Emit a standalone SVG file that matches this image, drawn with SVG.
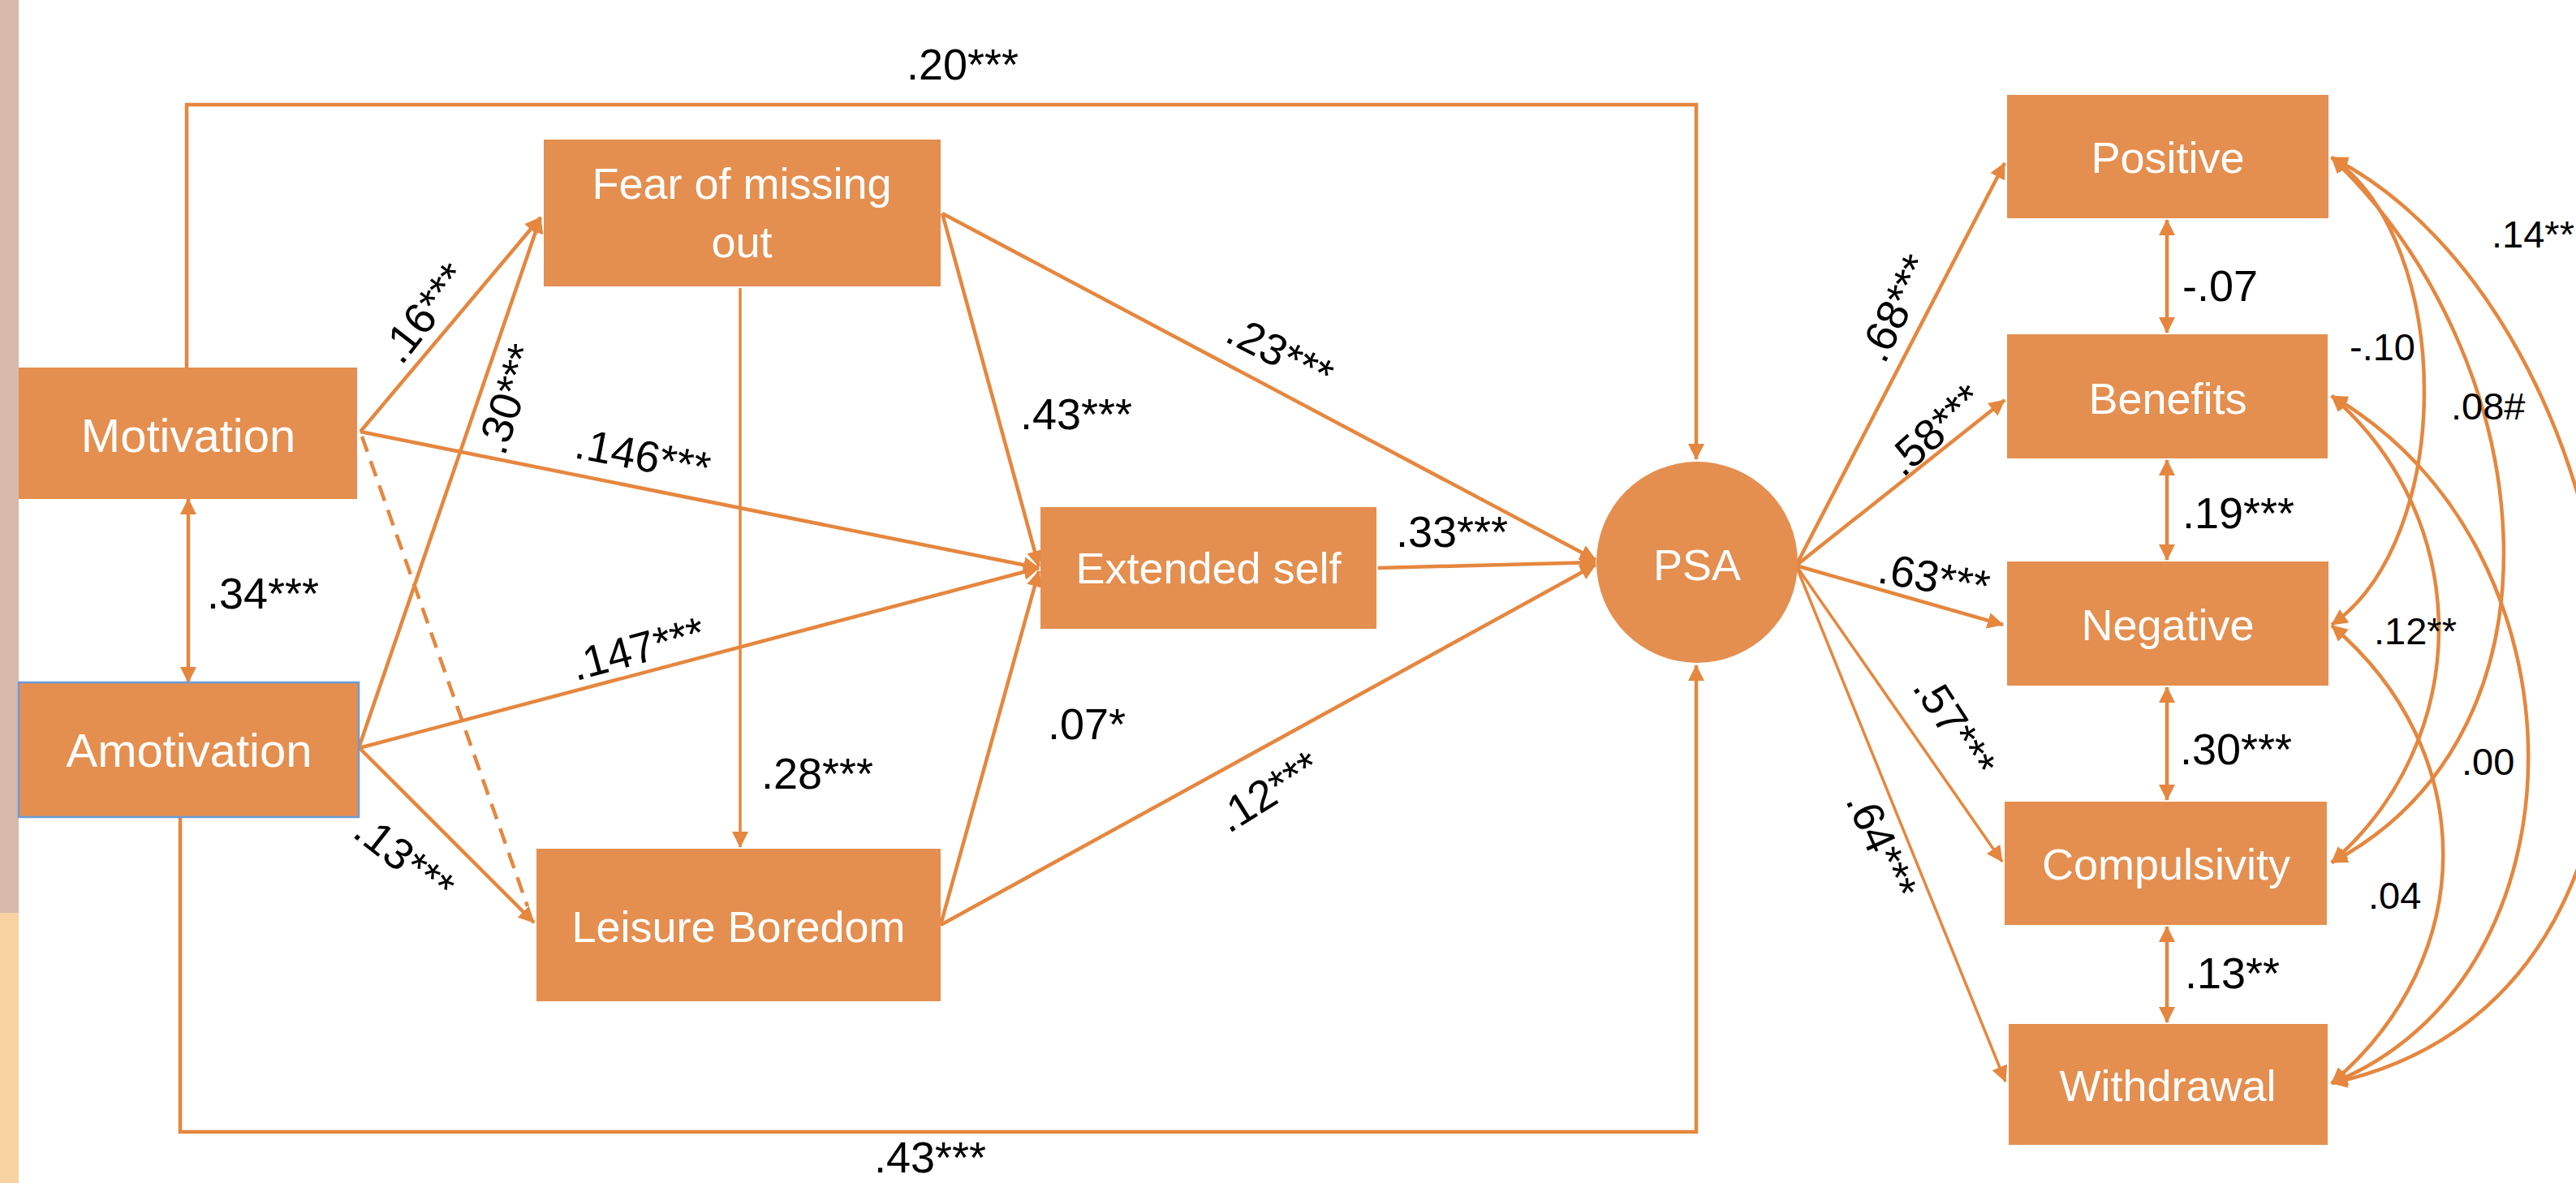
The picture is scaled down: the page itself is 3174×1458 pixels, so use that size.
<svg xmlns="http://www.w3.org/2000/svg" width="3174" height="1458" viewBox="0 0 3174 1458">
<defs>
<style>
.box{fill:#E48F50;}
.nt{font-family:"Liberation Sans",Arial,sans-serif;font-size:54px;fill:#FFFFFF;text-anchor:middle;}
.nb{font-size:58px;}
.lb{font-family:"Liberation Sans",Arial,sans-serif;font-size:54px;fill:#000000;}
.lbs{font-family:"Liberation Sans",Arial,sans-serif;font-size:47px;fill:#000000;}
.c{fill:none;stroke:#E5873F;stroke-width:4.5;}
.t{fill:none;stroke:#E5873F;stroke-width:3.5;}
.a{marker-end:url(#ah);}
.d{marker-start:url(#ah);marker-end:url(#ah);}
</style>
<marker id="ah" viewBox="0 0 10 10" refX="9.5" refY="5" markerWidth="20" markerHeight="20" markerUnits="userSpaceOnUse" orient="auto-start-reverse">
<path d="M0,0 L10,5 L0,10 z" fill="#E5873F"/>
</marker>
</defs>
<rect x="0" y="0" width="3174" height="1458" fill="#FFFFFF"/>
<rect x="0" y="0" width="23" height="1125" fill="#D9B9AB"/>
<rect x="0" y="1125" width="23" height="333" fill="#F8D2A1"/>

<g id="connectors">
<polyline class="c a" points="230,453 230,129 2090,129 2090,566"/>
<polyline class="c a" points="222,1007 222,1395 2090,1395 2090,820"/>
<line class="c d" x1="232" y1="615" x2="232" y2="841"/>
<line class="c a" x1="444" y1="532" x2="666" y2="268"/>
<line class="c a" x1="442" y1="922" x2="666" y2="268"/>
<line class="c a" x1="444" y1="532" x2="1280" y2="700"/>
<line class="c a" x1="442" y1="922" x2="1280" y2="700"/>
<line class="c a" x1="444" y1="923" x2="658" y2="1137"/>
<line class="c" x1="446" y1="538" x2="650" y2="1117" stroke-dasharray="20,12"/>
<line class="t a" x1="912" y1="355" x2="912" y2="1044"/>
<line class="c a" x1="1161" y1="263" x2="1280" y2="698"/>
<line class="c a" x1="1161" y1="263" x2="1966" y2="690"/>
<line class="c a" x1="1159" y1="1140" x2="1280" y2="704"/>
<line class="c a" x1="1159" y1="1140" x2="1966" y2="696"/>
<line class="c a" x1="1698" y1="700" x2="1966" y2="693"/>
<line class="c a" x1="2213" y1="697" x2="2470" y2="201"/>
<line class="c a" x1="2213" y1="697" x2="2470" y2="493"/>
<line class="c a" x1="2213" y1="697" x2="2468" y2="770"/>
<line class="t a" x1="2213" y1="697" x2="2467" y2="1062"/>
<line class="t a" x1="2213" y1="697" x2="2471" y2="1333"/>
<line class="c d" x1="2670" y1="271" x2="2670" y2="410"/>
<line class="c d" x1="2670" y1="567" x2="2670" y2="690"/>
<line class="c d" x1="2670" y1="847" x2="2670" y2="986"/>
<line class="c d" x1="2670" y1="1142" x2="2670" y2="1260"/>
<path class="c d" d="M2873,194 C3025,300 3025,664 2873,770"/>
<path class="c d" d="M2873,194 C3130,440 3180,900 2873,1063"/>
<path class="c d" d="M2873,194 C3250,386 3395,1222 2873,1335"/>
<path class="c d" d="M2873,488 C3049,640 3049,911 2873,1063"/>
<path class="c d" d="M2873,488 C3196,675 3196,1206 2873,1335"/>
<path class="c d" d="M2873,771 C3056,926 3056,1180 2873,1335"/>
</g>

<g id="labels">
<text class="lb" x="1117" y="98">.20***</text>
<text class="lb" x="1077" y="1445">.43***</text>
<text class="lb" x="255" y="750">.34***</text>
<text class="lb" text-anchor="middle" transform="translate(523,386) rotate(-52)" y="18">.16***</text>
<text class="lb" text-anchor="middle" transform="translate(626,492) rotate(-72)" y="18">.30***</text>
<text class="lb" text-anchor="middle" transform="translate(792,562) rotate(11)" y="18">.146***</text>
<text class="lb" text-anchor="middle" transform="translate(786,800) rotate(-15)" y="18">.147***</text>
<text class="lb" text-anchor="middle" transform="translate(498,1058) rotate(38)" y="18">.13***</text>
<text class="lb" text-anchor="middle" transform="translate(1577,435) rotate(27)" y="18">.23***</text>
<text class="lb" text-anchor="middle" transform="translate(1563,976) rotate(-32)" y="18">.12***</text>
<text class="lb" x="1257" y="529">.43***</text>
<text class="lb" x="938" y="972">.28***</text>
<text class="lb" x="1291" y="911">.07*</text>
<text class="lb" x="1720" y="674">.33***</text>
<text class="lb" text-anchor="middle" transform="translate(2336,380) rotate(-64)" y="18">.68***</text>
<text class="lb" text-anchor="middle" transform="translate(2384,530) rotate(-42)" y="18">.58***</text>
<text class="lb" text-anchor="middle" transform="translate(2383,712) rotate(10)" y="18">.63***</text>
<text class="lb" text-anchor="middle" transform="translate(2408,895) rotate(57)" y="18">.57***</text>
<text class="lb" text-anchor="middle" transform="translate(2318,1042) rotate(66)" y="18">.64***</text>
<text class="lb" x="2689" y="371">-.07</text>
<text class="lb" x="2689" y="651">.19***</text>
<text class="lb" x="2686" y="942">.30***</text>
<text class="lb" x="2692" y="1218">.13**</text>
<text class="lbs" x="2895" y="444">-.10</text>
<text class="lbs" x="3020" y="517">.08#</text>
<text class="lbs" x="3070" y="305">.14**</text>
<text class="lbs" x="2925" y="794">.12**</text>
<text class="lbs" x="3033" y="955">.00</text>
<text class="lbs" x="2918" y="1120">.04</text>
</g>

<g id="node-motivation">
<rect class="box" x="23" y="453" width="417" height="162"/>
<text class="nt nb" x="232" y="557">Motivation</text>
</g>
<g id="node-amotivation">
<rect class="box" x="23" y="841" width="419" height="166" stroke="#6A9BD8" stroke-width="2.5"/>
<text class="nt nb" x="233" y="945">Amotivation</text>
</g>
<g id="node-fomo">
<rect class="box" x="670" y="172" width="489" height="181"/>
<text class="nt" x="914" y="245">Fear of missing</text>
<text class="nt" x="914" y="317">out</text>
</g>
<g id="node-extended">
<rect class="box" x="1282" y="625" width="414" height="150"/>
<text class="nt" x="1489" y="719">Extended self</text>
</g>
<g id="node-leisure">
<rect class="box" x="661" y="1046" width="498" height="188"/>
<text class="nt" x="910" y="1161">Leisure Boredom</text>
</g>
<g id="node-psa">
<circle class="box" cx="2091" cy="693" r="124"/>
<text class="nt" x="2091" y="715">PSA</text>
</g>
<g id="node-positive">
<rect class="box" x="2473" y="117" width="396" height="152"/>
<text class="nt" x="2671" y="213">Positive</text>
</g>
<g id="node-benefits">
<rect class="box" x="2473" y="412" width="395" height="153"/>
<text class="nt" x="2671" y="510">Benefits</text>
</g>
<g id="node-negative">
<rect class="box" x="2473" y="692" width="396" height="153"/>
<text class="nt" x="2671" y="789">Negative</text>
</g>
<g id="node-compulsivity">
<rect class="box" x="2470" y="988" width="397" height="152"/>
<text class="nt" x="2669" y="1084">Compulsivity</text>
</g>
<g id="node-withdrawal">
<rect class="box" x="2475" y="1262" width="393" height="149"/>
<text class="nt" x="2671" y="1357">Withdrawal</text>
</g>
</svg>
